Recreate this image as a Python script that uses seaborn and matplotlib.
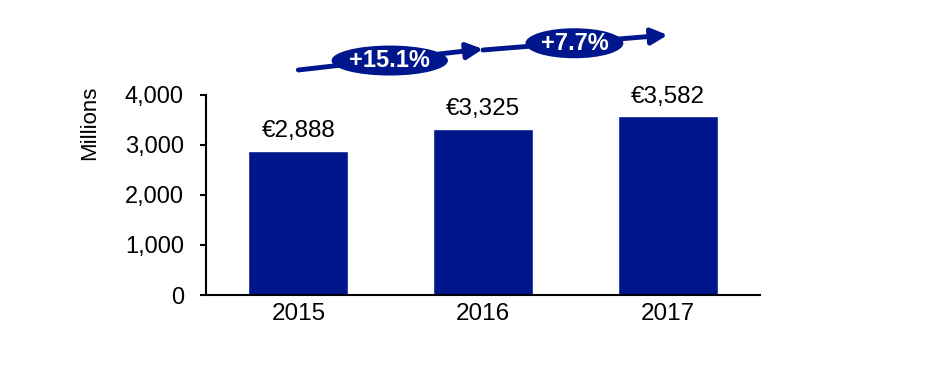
import matplotlib
matplotlib.use("Agg")
import matplotlib.pyplot as plt
from matplotlib.patches import Ellipse
import pandas as pd
import seaborn as sns

# Data
years = ["2015", "2016", "2017"]
revenue = [2888, 3325, 3582]
growth_labels = ["+15.1%", "+7.7%"]

navy = "#00168C"

sns.set_theme(style="white")
plt.rcParams['font.family'] = ['Liberation Sans', 'DejaVu Sans']

df = pd.DataFrame({"Year": years, "Revenue": revenue})

fig = plt.figure(figsize=(9.38, 3.82), dpi=100)
ax = fig.add_axes([206 / 938, 87 / 382, 554 / 938, 200 / 382])

sns.barplot(data=df, x="Year", y="Revenue", color=navy, saturation=1,
            width=0.54, ax=ax)

ax.set_xlim(-0.5, 2.5)
ax.set_ylim(0, 4000)
ax.set_yticks([0, 1000, 2000, 3000, 4000])
ax.set_yticklabels([f"{v:,}" for v in [0, 1000, 2000, 3000, 4000]])
ax.set_xlabel("")
ax.set_ylabel("")

ax.bar_label(ax.containers[0], labels=[f"€{v:,}" for v in revenue],
             padding=6, fontsize=17.5, color="black")

for s in ["top", "right"]:
    ax.spines[s].set_visible(False)
for s in ["left", "bottom"]:
    ax.spines[s].set_color("black")
    ax.spines[s].set_linewidth(1.5)

ax.tick_params(axis="y", length=4, width=1.5, color="black", pad=12,
               labelsize=17, left=True, direction="out")
ax.tick_params(axis="x", length=0, pad=6, labelsize=17.5)
for lbl in ax.get_xticklabels() + ax.get_yticklabels():
    lbl.set_color("black")

fig.text(90 / 938, 1 - 123 / 382, "Millions", rotation=90, ha="center",
         va="center", fontsize=16, color="black")

# Growth arrows between bars
arrow_levels = [(4500, 4920), (4900, 5200)]
for i, lab in enumerate(growth_labels):
    y0, y1 = arrow_levels[i]
    ax.annotate("", xy=(i + 1, y1), xytext=(i, y0), xycoords="data",
                annotation_clip=False,
                arrowprops=dict(arrowstyle="-|>,head_length=0.8,head_width=0.4",
                                color=navy, lw=3.5, shrinkA=0, shrinkB=0),
                zorder=3)
    cx = i + 0.495
    cy = y0 + (y1 - y0) * 0.45
    w = 0.63 if i == 0 else 0.53
    e = Ellipse((cx, cy), w, 600, facecolor=navy, edgecolor="none",
                clip_on=False, zorder=4)
    ax.add_patch(e)
    ax.text(cx, cy, lab, ha="center", va="center", color="white",
            fontsize=17, fontweight="bold", zorder=5, clip_on=False)

fig.savefig("out.png", dpi=100)
